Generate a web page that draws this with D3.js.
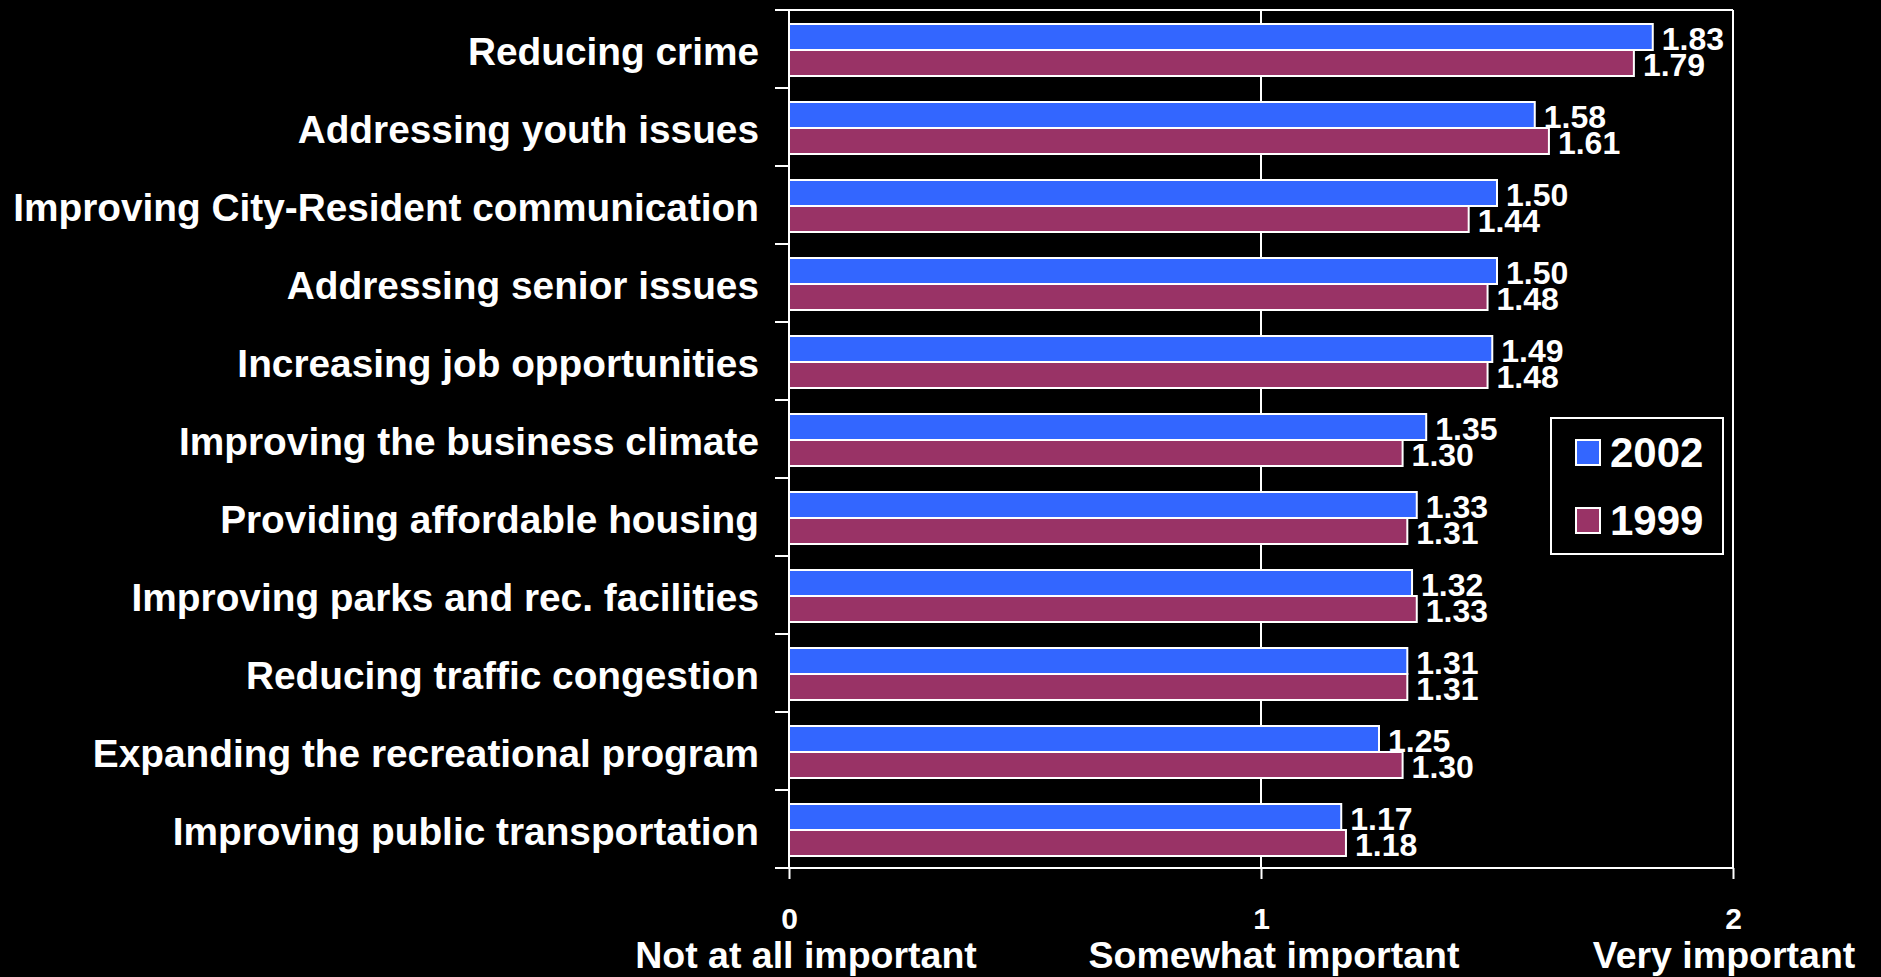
<!DOCTYPE html>
<html>
<head>
<meta charset="utf-8">
<script src="https://cdn.jsdelivr.net/npm/d3@7"></script>
<style>
  html, body { margin: 0; padding: 0; background: #000; }
  svg { display: block; }
  text { font-family: "Liberation Sans", Arial, Helvetica, sans-serif; font-weight: bold; fill: #fff; }
</style>
</head>
<body>
<svg id="chart" width="1881" height="977"></svg>
<script>
// Importance ratings by issue, two survey years
const categories = [
  "Reducing crime",
  "Addressing youth issues",
  "Improving City-Resident communication",
  "Addressing senior issues",
  "Increasing job opportunities",
  "Improving the business climate",
  "Providing affordable housing",
  "Improving parks and rec. facilities",
  "Reducing traffic congestion",
  "Expanding the recreational program",
  "Improving public transportation"
];
const series = ["2002", "1999"];
const values2002 = [1.83, 1.58, 1.50, 1.50, 1.49, 1.35, 1.33, 1.32, 1.31, 1.25, 1.17];
const values1999 = [1.79, 1.61, 1.44, 1.48, 1.48, 1.30, 1.31, 1.33, 1.31, 1.30, 1.18];
const xTicks = [0, 1, 2];
const xTickNames = ["Not at all important", "Somewhat important", "Very important"];
const colors = ["#3366FF", "#993366"];

const svg = d3.select("#chart");
svg.append("rect").attr("width", 1881).attr("height", 977).attr("fill", "#000");

const plot = { left: 789, right: 1733, top: 10, bottom: 868 };

const x = d3.scaleLinear().domain([0, 2]).range([plot.left, plot.right]);
const y0 = d3.scaleBand().domain(categories).range([plot.top, plot.bottom]).padding(0);
const y1 = d3.scaleBand().domain(series).range([1, y0.bandwidth() + 1]).paddingInner(0).paddingOuter(0.5);
const color = d3.scaleOrdinal().domain(series).range(colors);

const rows = categories.map((c, i) => ({
  category: c,
  values: [
    { key: "2002", value: values2002[i] },
    { key: "1999", value: values1999[i] }
  ]
}));

// plot frame: top border and vertical gridlines at 1 and 2
svg.append("line")
  .attr("x1", plot.left).attr("x2", plot.right)
  .attr("y1", plot.top).attr("y2", plot.top)
  .attr("stroke", "#fff").attr("stroke-width", 2);

svg.append("g").selectAll("line")
  .data(xTicks.filter(t => t > 0))
  .join("line")
  .attr("x1", d => x(d)).attr("x2", d => x(d))
  .attr("y1", plot.top).attr("y2", plot.bottom)
  .attr("stroke", "#fff").attr("stroke-width", 2);

// bars
const groups = svg.append("g").selectAll("g")
  .data(rows)
  .join("g")
  .attr("transform", d => `translate(0,${y0(d.category)})`);

groups.selectAll("rect")
  .data(d => d.values)
  .join("rect")
  .attr("x", x(0))
  .attr("y", d => y1(d.key))
  .attr("width", d => x(d.value) - x(0))
  .attr("height", y1.bandwidth())
  .attr("fill", d => color(d.key))
  .attr("stroke", "#fff")
  .attr("stroke-width", 2);

groups.selectAll("text.val")
  .data(d => d.values)
  .join("text")
  .attr("class", "val")
  .attr("x", d => x(d.value) + 9)
  .attr("y", d => y1(d.key) + y1.bandwidth() / 2)
  .attr("dy", "0.4em")
  .attr("font-size", 32)
  .text(d => d3.format(".2f")(d.value));

// y axis with category labels
const yAxis = d3.axisLeft(y0).tickSize(0).tickPadding(30);
const yg = svg.append("g").attr("transform", `translate(${plot.left},0)`).call(yAxis);
yg.select(".domain").remove();
yg.selectAll("text").attr("font-size", 38.8).attr("fill", "#fff")
  .attr("font-family", "'Liberation Sans', Arial, sans-serif").attr("font-weight", "bold")
  .attr("dy", "0.42em");

// category boundary ticks
svg.append("g").selectAll("line")
  .data(categories.map(c => y0(c)).concat([plot.bottom]))
  .join("line")
  .attr("x1", plot.left - 14).attr("x2", plot.left)
  .attr("y1", d => d).attr("y2", d => d)
  .attr("stroke", "#fff").attr("stroke-width", 2);

svg.append("line")
  .attr("x1", plot.left).attr("x2", plot.left)
  .attr("y1", plot.top - 1).attr("y2", plot.bottom + 1)
  .attr("stroke", "#fff").attr("stroke-width", 2);

// x axis
const xAxis = d3.axisBottom(x).tickValues(xTicks).tickSize(11).tickPadding(29).tickFormat(d3.format("d"));
const xg = svg.append("g").attr("transform", `translate(0,${plot.bottom})`).call(xAxis);
xg.select(".domain").attr("stroke", "#fff").attr("stroke-width", 2)
  .attr("d", `M${plot.left - 14},0H${plot.right}`);
xg.selectAll(".tick line").attr("stroke", "#fff").attr("stroke-width", 2);
xg.selectAll(".tick text").attr("font-size", 30).attr("fill", "#fff")
  .attr("font-family", "'Liberation Sans', Arial, sans-serif").attr("font-weight", "bold");

// second line of tick labels
const nameShift = [17, 13, -9];
svg.append("g").selectAll("text")
  .data(xTicks)
  .join("text")
  .attr("x", (d, i) => x(d) + nameShift[i])
  .attr("y", 968)
  .attr("text-anchor", "middle")
  .attr("font-size", 37.5)
  .text((d, i) => xTickNames[i]);

// legend
const legend = svg.append("g").attr("transform", "translate(1551,418)");
legend.append("rect")
  .attr("width", 172).attr("height", 136)
  .attr("fill", "#000").attr("stroke", "#fff").attr("stroke-width", 2);
const items = legend.selectAll("g")
  .data(series)
  .join("g")
  .attr("transform", (d, i) => `translate(25,${22 + i * 68})`);
items.append("rect")
  .attr("width", 24).attr("height", 25)
  .attr("fill", d => color(d))
  .attr("stroke", "#fff").attr("stroke-width", 2);
items.append("text")
  .attr("x", 34).attr("y", 27)
  .attr("font-size", 42)
  .text(d => d);
</script>
</body>
</html>
